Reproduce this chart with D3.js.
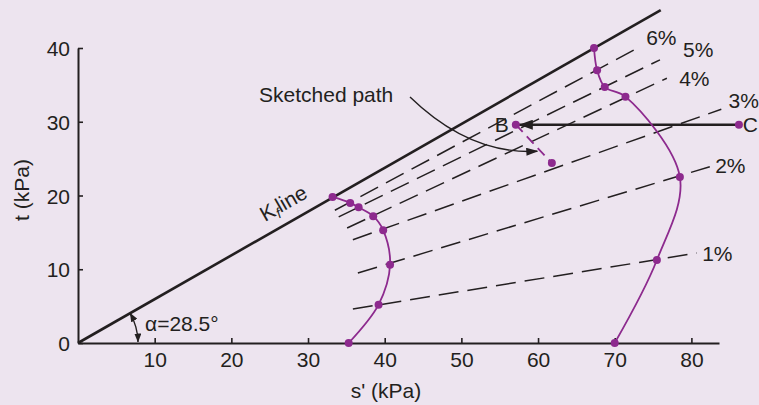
<!DOCTYPE html>
<html>
<head>
<meta charset="utf-8">
<script src="https://cdn.jsdelivr.net/npm/d3@7"></script>
<style>
  html, body { margin: 0; padding: 0; background: #ede4ef; }
  svg { display: block; }
  text { font-family: "Liberation Sans", Arial, Helvetica, sans-serif; fill: #231f20; }
</style>
</head>
<body>
<svg id="chart" width="759" height="405"></svg>
<script>
// ---------- data ----------
const xTicks = [10, 20, 30, 40, 50, 60, 70, 80];
const yTicks = [0, 10, 20, 30, 40];
const xLabel = "s' (kPa)";
const yLabel = "t (kPa)";

// Kf line (failure envelope) end points [s', t]
const kfLine = [[0, 0], [76.0, 45.15]];

// strain contours: [start s', start t, end s', end t]
const contourNames = ["1%", "2%", "3%", "4%", "5%", "6%"];
const contourStart = [[35.85, 4.6], [36.5, 9.5], [35.85, 14.0], [35.1, 15.6], [34.0, 17.1], [33.5, 18.0]];
const contourEnd   = [[80.7, 12.2], [82.4, 23.9], [83.9, 31.7], [76.8, 35.9], [75.9, 38.4], [73.0, 40.0]];
const contourLabelAt = [[81.4, 11.1], [83.1, 23.05], [84.85, 31.9], [78.4, 34.8], [78.9, 38.8], [74.1, 40.4]];

// stress paths [s', t]
const pathLeft = [[35.3, 0], [39.2, 5.2], [40.7, 10.6], [39.8, 15.3], [38.5, 17.2], [36.6, 18.4], [35.5, 19.0], [33.2, 19.8]];
const pathRight = [[70.0, 0], [75.5, 11.25], [78.5, 22.5], [71.4, 33.4], [68.7, 34.7], [67.7, 37.0], [67.3, 40.0]];

// points B, C and end of sketched path
const pointB = [57.1, 29.6];
const pointC = [86.2, 29.6];
const pointD = [61.8, 24.4];

// annotation curve for "Sketched path" [start, control, end]
const sketchCurve = [[43.3, 33.36], [51.1, 25.5], [59.9, 26.0]];
const angleText = "α=28.5°";

// ---------- drawing ----------
const svg = d3.select("#chart");
const ink = "#231f20";
const purple = "#8d2a8e";
const fs = "21px";

const x = d3.scaleLinear().domain([0, 83.6]).range([78, 719]);
const y = d3.scaleLinear().domain([0, 40]).range([343, 48]);

// axes
const xAxis = d3.axisBottom(x).tickValues(xTicks).tickSize(-5).tickPadding(9).tickSizeOuter(0);
const gx = svg.append("g").attr("transform", "translate(0,343)").call(xAxis);
const yAxis = d3.axisLeft(y).tickValues(yTicks).tickSize(-5).tickPadding(8).tickSizeOuter(0);
const gy = svg.append("g").attr("transform", "translate(78,0)").call(yAxis);
[gx, gy].forEach(g => {
  g.select(".domain").attr("stroke", ink).attr("stroke-width", 2);
  g.selectAll(".tick line").attr("stroke", ink).attr("stroke-width", 1.6);
  g.selectAll(".tick text").attr("fill", ink).style("font-size", fs)
    .style("font-family", '"Liberation Sans", Arial, sans-serif');
});
gy.selectAll(".tick text").attr("dy", "0.36em");

// axis titles
svg.append("text").attr("x", 386).attr("y", 398).attr("text-anchor", "middle")
  .style("font-size", fs).text(xLabel);
svg.append("text").attr("transform", "translate(29,190) rotate(-90)").attr("text-anchor", "middle")
  .style("font-size", fs).text(yLabel);

const line = d3.line().x(d => x(d[0])).y(d => y(d[1]));

// Kf line
svg.append("path").attr("d", line(kfLine)).attr("stroke", ink).attr("stroke-width", 2.6).attr("fill", "none");

// strain contours
contourNames.forEach((name, i) => {
  svg.append("path").attr("d", line([contourStart[i], contourEnd[i]]))
    .attr("stroke", ink).attr("stroke-width", 1.5).attr("fill", "none")
    .attr("stroke-dasharray", "20,9");
  svg.append("text").attr("x", x(contourLabelAt[i][0])).attr("y", y(contourLabelAt[i][1]))
    .style("font-size", fs).text(name);
});

// defs for arrowheads
const defs = svg.append("defs");
defs.append("marker").attr("id", "arrBig").attr("viewBox", "0 0 14 10").attr("refX", 14).attr("refY", 5)
  .attr("markerWidth", 14).attr("markerHeight", 10).attr("markerUnits", "userSpaceOnUse").attr("orient", "auto")
  .append("path").attr("d", "M0,0 L14,5 L0,10 Z").attr("fill", ink);
defs.append("marker").attr("id", "arrSmall").attr("viewBox", "0 0 12 8").attr("refX", 11).attr("refY", 4)
  .attr("markerWidth", 12).attr("markerHeight", 8).attr("markerUnits", "userSpaceOnUse").attr("orient", "auto")
  .append("path").attr("d", "M0,0 L12,4 L0,8 Z").attr("fill", ink);
defs.append("marker").attr("id", "arrTiny").attr("viewBox", "0 0 9 7").attr("refX", 8.5).attr("refY", 3.5)
  .attr("markerWidth", 9).attr("markerHeight", 7).attr("markerUnits", "userSpaceOnUse").attr("orient", "auto-start-reverse")
  .append("path").attr("d", "M0,0 L9,3.5 L0,7 Z").attr("fill", ink);

// C -> B arrow
svg.append("line").attr("x1", x(pointC[0])).attr("y1", y(pointC[1]))
  .attr("x2", x(pointB[0]) + 3).attr("y2", y(pointB[1]))
  .attr("stroke", ink).attr("stroke-width", 2.4).attr("marker-end", "url(#arrBig)");

// purple dashed B -> D
svg.append("path").attr("d", line([pointB, pointD])).attr("stroke", purple).attr("stroke-width", 1.8)
  .attr("fill", "none").attr("stroke-dasharray", "10,6");

// stress paths
const curve = d3.line().x(d => x(d[0])).y(d => y(d[1])).curve(d3.curveCatmullRom.alpha(0.5));
[pathLeft, pathRight].forEach(p => {
  svg.append("path").attr("d", curve(p)).attr("stroke", purple).attr("stroke-width", 1.8).attr("fill", "none");
  svg.selectAll(null).data(p).enter().append("circle")
    .attr("cx", d => x(d[0])).attr("cy", d => y(d[1])).attr("r", 4).attr("fill", purple);
});
svg.selectAll(null).data([pointB, pointC, pointD]).enter().append("circle")
  .attr("cx", d => x(d[0])).attr("cy", d => y(d[1])).attr("r", 4).attr("fill", purple);

// labels B, C
svg.append("text").attr("x", x(pointB[0]) - 21).attr("y", y(pointB[1]) + 7).style("font-size", fs).text("B");
svg.append("text").attr("x", 759 - 1).attr("y", y(pointC[1]) + 7).attr("text-anchor", "end")
  .style("font-size", fs).text("C");

// Sketched path annotation
const sp = sketchCurve.map(d => [x(d[0]), y(d[1])]);
svg.append("path").attr("d", `M${sp[0][0]},${sp[0][1]} Q${sp[1][0]},${sp[1][1]} ${sp[2][0]},${sp[2][1]}`)
  .attr("stroke", ink).attr("stroke-width", 1.4).attr("fill", "none").attr("marker-end", "url(#arrSmall)");
svg.append("text").attr("x", 259).attr("y", 102).style("font-size", fs).text("Sketched path");

// Kf line label
const ang = Math.atan2(y(kfLine[0][1]) - y(kfLine[1][1]), x(kfLine[1][0]) - x(kfLine[0][0])) * 180 / Math.PI;
const kt = svg.append("text").attr("transform", `translate(265,222) rotate(${-ang})`).style("font-size", fs);
kt.append("tspan").text("K");
kt.append("tspan").attr("dy", 4).style("font-size", "14px").style("font-style", "italic").text("f");
kt.append("tspan").attr("dy", -4).text("line");

// angle arc
const ox = x(0), oy = y(0), R = 60, a1 = ang * Math.PI / 180;
svg.append("path")
  .attr("d", `M${ox + R * Math.cos(a1)},${oy - R * Math.sin(a1)} A${R},${R} 0 0 1 ${ox + R},${oy - 1}`)
  .attr("stroke", ink).attr("stroke-width", 1.4).attr("fill", "none")
  .attr("marker-start", "url(#arrTiny)").attr("marker-end", "url(#arrTiny)");
svg.append("text").attr("x", 145).attr("y", 331).style("font-size", fs).text(angleText);
</script>
</body>
</html>
